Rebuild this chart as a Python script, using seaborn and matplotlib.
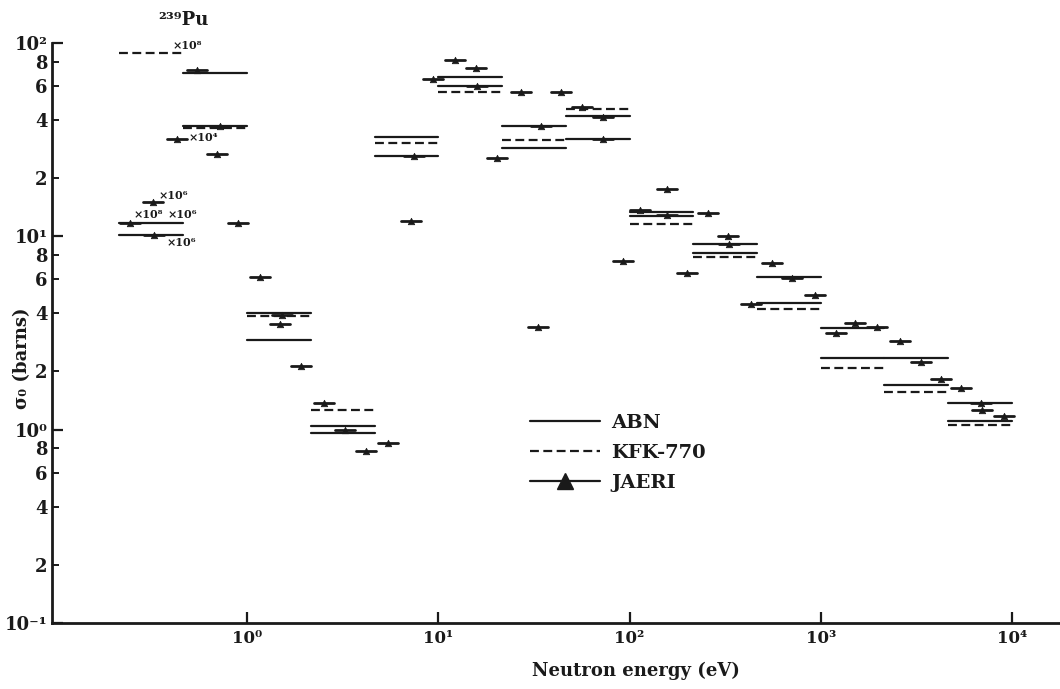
import pandas as pd
import matplotlib
matplotlib.use('Agg')
import matplotlib.pyplot as plt
from matplotlib.lines import Line2D
from matplotlib.ticker import FixedLocator, NullLocator
import seaborn as sns

# Grupos de energia (eV) - estrutura de 1/3 de década
group_lo = [0.215, 0.465, 1.0, 2.15, 4.65, 10, 21.5, 46.5, 100, 215, 465, 1000, 2150, 4650]
group_hi = [0.465, 1.0, 2.15, 4.65, 10, 21.5, 46.5, 100, 215, 465, 1000, 2150, 4650, 10000]

# ABN (duas curvas sólidas por grupo)
abn_upper = [11.7, 69.9, 4.01, 1.04, 32.6, 66.7, 37.2, 41.9, 13.4, 9.12, 6.16, 3.36, 2.35, 1.37]
abn_lower = [10.2, 37.0, 2.91, 0.96, 26.0, 59.9, 28.6, 31.9, 12.7, 8.20, 4.52, 2.35, 1.70, 1.11]

# KFK-770 (tracejado)
kfk = [88.8, 36.3, 3.87, 1.26, 30.4, 55.8, 31.5, 45.6, 11.6, 7.81, 4.21, 2.08, 1.56, 1.06]

# JAERI (grupos finos): energia central e valor
jaeri_e = [0.548, 0.431, 0.723, 0.697, 0.323, 0.245, 0.327, 0.897,
           1.17, 1.52, 1.49, 1.92, 2.53, 3.25, 5.46, 4.19,
           12.2, 15.7, 9.38, 15.9, 27.1, 43.8, 7.46, 7.20, 20.3, 34.4,
           56.4, 72.6, 72.6, 33.2, 92.4, 200, 157, 113, 157, 257,
           327, 331, 555, 706, 932, 431, 1508, 1965, 1199, 2591,
           3337, 4245, 5401, 6869, 6953, 9060]
jaeri_v = [72.5, 31.9, 37.2, 26.7, 15.0, 11.7, 10.2, 11.7,
           6.16, 3.92, 3.52, 2.13, 1.37, 0.995, 0.852, 0.775,
           81.7, 74.3, 65.1, 59.9, 55.8, 55.8, 26.0, 12.0, 25.4, 37.2,
           46.7, 41.4, 31.9, 3.40, 7.45, 6.46, 17.6, 13.7, 12.9, 13.2,
           10.0, 9.12, 7.28, 6.09, 4.97, 4.47, 3.56, 3.40, 3.16, 2.87,
           2.24, 1.83, 1.64, 1.37, 1.26, 1.18]

# Fatores multiplicativos escritos no gráfico
note_e = [0.406, 0.497, 0.343, 0.254, 0.386, 0.382]
note_v = [96.5, 32.6, 16.2, 12.9, 12.9, 9.34]
note_txt = ['×10⁸', '×10⁴', '×10⁶', '×10⁸', '×10⁶', '×10⁶']


def segments(lo, hi, vals, tag):
    rows = []
    for i, (a, b, v) in enumerate(zip(lo, hi, vals)):
        rows.append((f'{tag}{i}', a, v))
        rows.append((f'{tag}{i}', b, v))
    return rows


df_abn = pd.DataFrame(segments(group_lo, group_hi, abn_upper, 'u')
                      + segments(group_lo, group_hi, abn_lower, 'l'),
                      columns=['seg', 'E', 'sig'])
df_kfk = pd.DataFrame(segments(group_lo, group_hi, kfk, 'k'), columns=['seg', 'E', 'sig'])
w = 1.13
df_jae = pd.DataFrame(segments([e / w for e in jaeri_e], [e * w for e in jaeri_e], jaeri_v, 'j'),
                      columns=['seg', 'E', 'sig'])

sns.set_theme(style='ticks')
plt.rcParams['font.family'] = ['DejaVu Serif']
plt.rcParams['font.weight'] = 'bold'
plt.rcParams['text.color'] = 'black'
plt.rcParams['axes.labelcolor'] = 'black'
plt.rcParams['xtick.color'] = 'black'
plt.rcParams['ytick.color'] = 'black'

fig = plt.figure(figsize=(10.6, 6.89), dpi=100)
ax = fig.add_axes([0.049, 0.0958, 0.951, 0.8418])
ax.set_xscale('log')
ax.set_yscale('log')

sns.lineplot(data=df_abn, x='E', y='sig', units='seg', estimator=None, sort=False,
             color='k', lw=1.6, ax=ax)
sns.lineplot(data=df_kfk, x='E', y='sig', units='seg', estimator=None, sort=False,
             color='k', lw=1.6, linestyle=(0, (4, 2)), ax=ax)
sns.lineplot(data=df_jae, x='E', y='sig', units='seg', estimator=None, sort=False,
             color='k', lw=2.0, ax=ax)
sns.scatterplot(x=jaeri_e, y=jaeri_v, marker='^', s=22, color='k', edgecolor='k',
                linewidth=0.5, ax=ax, zorder=3)

for e, v, t in zip(note_e, note_v, note_txt):
    ax.text(e, v, t, fontsize=8, ha='left', va='center', color='k')

ax.set_xlim(0.0956, 17800)
ax.set_ylim(0.1, 100)

# eixos
ax.xaxis.set_major_locator(FixedLocator([1, 10, 100, 1000, 10000]))
ax.xaxis.set_minor_locator(NullLocator())
ax.set_xticklabels(['10⁰', '10¹', '10²', '10³', '10⁴'], fontsize=12)
ax.set_yticks([0.1, 1, 10, 100])
ax.set_yticklabels(['10⁻¹', '10⁰', '10¹', '10²'], fontsize=13)
minor = [m * d for d in (0.1, 1, 10) for m in (2, 4, 6, 8)]
ax.set_yticks(minor, minor=True)
ax.set_yticklabels([str(m) for d in (0.1, 1, 10) for m in (2, 4, 6, 8)], minor=True, fontsize=13)
ax.tick_params(axis='both', which='major', direction='in', length=8, width=1.6, pad=3, colors='k')
ax.tick_params(axis='x', which='major', pad=5)
ax.tick_params(axis='y', which='minor', direction='in', length=5, width=1.4, pad=3, colors='k')

for s in ['top', 'right']:
    ax.spines[s].set_visible(False)
for s in ['left', 'bottom']:
    ax.spines[s].set_linewidth(2.0)
    ax.spines[s].set_color('k')

ax.set_xlabel('Neutron energy (eV)', fontsize=13, fontweight='bold', color='k')
ax.xaxis.set_label_coords(0.579, -0.066)
ax.set_ylabel('σ₀ (barns)', fontsize=13, fontweight='bold', color='k')
ax.yaxis.set_label_coords(-0.021, 0.457)

ax.text(0.105, 1.04, '²³⁹Pu', transform=ax.transAxes, fontsize=13, ha='left', va='center', color='k')

handles = [Line2D([], [], color='k', lw=1.6, label='ABN'),
           Line2D([], [], color='k', lw=1.6, linestyle=(0, (4, 2)), label='KFK-770'),
           Line2D([], [], color='k', lw=1.6, marker='^', ms=11, label='JAERI')]
leg = ax.legend(handles=handles, loc='upper left', bbox_to_anchor=(0.474, 0.36), frameon=False,
                fontsize=14, handlelength=3.6, handletextpad=0.6, labelspacing=0.62,
                borderpad=0, borderaxespad=0)
for t in leg.get_texts():
    t.set_color('k')

fig.savefig('out.png', dpi=100)
